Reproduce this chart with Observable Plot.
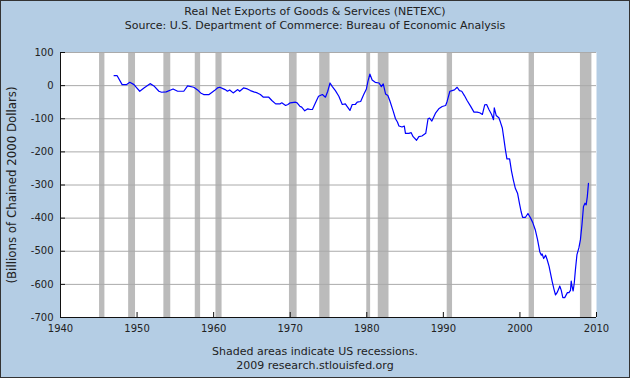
<!DOCTYPE html>
<html><head><meta charset="utf-8">
<script src="https://cdn.jsdelivr.net/npm/d3@7"></script>
<script src="https://cdn.jsdelivr.net/npm/@observablehq/plot@0.6"></script>
<style>
html,body{margin:0;padding:0;background:#b4cde4;}
#wrap{position:relative;width:630px;height:378px;background:#b4cde4;font-family:"DejaVu Sans",sans-serif;color:#222;overflow:hidden}
#title{height:36px;box-sizing:border-box;padding-top:5px;text-align:center;font-size:11px;line-height:14px;white-space:nowrap}
#caption{height:36px;box-sizing:border-box;padding-top:3px;text-align:center;font-size:11px;line-height:14px;white-space:nowrap}
#border{position:absolute;left:0;top:0;width:630px;height:378px;box-sizing:border-box;border:1px solid #333;pointer-events:none}
svg{display:block}
</style></head>
<body>
<div id="wrap">
  <div id="title"><div>Real Net Exports of Goods &amp; Services (NETEXC)</div><div>Source: U.S. Department of Commerce: Bureau of Economic Analysis</div></div>
  <div id="chart"></div>
  <div id="caption"><div>Shaded areas indicate US recessions.</div><div>2009 research.stlouisfed.org</div></div>
  <div id="border"></div>
</div>
<script>
const years = [1947.0,1947.4,1948.05,1948.6,1949.05,1949.6,1949.9,1950.35,1950.9,1951.7,1952.2,1952.85,1953.2,1953.8,1954.4,1954.7,1955.3,1956.1,1956.6,1957.4,1957.9,1958.3,1958.7,1959.4,1959.8,1960.1,1960.5,1960.8,1961.2,1961.5,1961.8,1962.1,1962.55,1962.85,1963.15,1963.4,1963.9,1964.4,1964.8,1965.25,1965.7,1966.1,1966.5,1967.2,1967.6,1968.1,1968.7,1968.9,1969.4,1969.7,1970.0,1970.7,1970.9,1971.25,1971.5,1971.9,1972.3,1972.65,1972.9,1973.3,1973.7,1974.2,1974.6,1974.9,1975.2,1975.5,1975.9,1976.35,1976.8,1977.2,1977.4,1977.8,1978.1,1978.5,1978.75,1979.2,1979.6,1979.95,1980.15,1980.4,1980.7,1981.1,1981.6,1981.9,1982.15,1982.45,1982.75,1983.0,1983.45,1983.75,1984.0,1984.2,1984.6,1984.9,1985.05,1985.5,1985.8,1986.05,1986.5,1986.8,1987.2,1987.7,1988.0,1988.2,1988.5,1989.0,1989.4,1989.85,1990.3,1990.5,1990.85,1991.15,1991.45,1991.8,1992.1,1992.4,1992.75,1993.1,1993.55,1994.0,1994.4,1994.75,1995.1,1995.4,1995.65,1995.95,1996.3,1996.55,1996.65,1996.9,1997.25,1997.45,1997.7,1997.9,1998.1,1998.3,1998.65,1998.9,1999.15,1999.4,1999.7,1999.95,2000.15,2000.35,2000.7,2001.05,2001.4,2001.7,2002.0,2002.3,2002.6,2002.8,2002.9,2003.1,2003.35,2003.55,2003.8,2004.2,2004.45,2004.65,2004.85,2005.1,2005.2,2005.4,2005.6,2005.85,2006.2,2006.4,2006.6,2006.7,2006.8,2006.95,2007.1,2007.25,2007.45,2007.7,2007.9,2008.1,2008.3,2008.5,2008.65,2008.8,2008.95];
const netExports = [30,30,3,3,10,3,-5,-17,-7,6,-1,-17,-20,-19,-13,-10,-17,-17,-1,-5,-13,-22,-27,-27,-20,-15,-7,-5,-9,-12,-17,-13,-22,-17,-12,-17,-7,-10,-15,-19,-22,-27,-35,-35,-45,-55,-55,-52,-60,-57,-52,-50,-52,-62,-65,-76,-70,-72,-72,-52,-32,-27,-35,-17,8,-3,-15,-32,-57,-55,-62,-75,-57,-57,-50,-48,-27,-10,13,35,17,10,8,-3,5,-25,-30,-45,-77,-100,-110,-122,-125,-122,-144,-144,-142,-154,-165,-154,-152,-144,-100,-98,-107,-82,-70,-63,-60,-47,-17,-15,-13,-5,-15,-17,-30,-45,-62,-80,-80,-82,-87,-58,-57,-72,-87,-103,-67,-90,-97,-110,-128,-160,-193,-221,-221,-258,-286,-310,-326,-357,-380,-398,-398,-386,-400,-415,-435,-465,-502,-512,-508,-522,-512,-525,-545,-590,-615,-632,-625,-612,-605,-618,-640,-640,-625,-625,-618,-590,-605,-620,-595,-555,-510,-490,-465,-420,-365,-355,-360,-335,-295];
const recessionStart = [1945.1,1948.9,1953.5,1957.6,1960.3,1969.9,1973.85,1980.0,1981.5,1990.5,2001.2,2007.9];
const recessionEnd   = [1945.8,1949.8,1954.4,1958.3,1961.1,1970.9,1975.2,1980.5,1982.9,1991.2,2001.9,2009.4];
const yTicks = [100,0,-100,-200,-300,-400,-500,-600,-700];
const xTicks = [1940,1950,1960,1970,1980,1990,2000,2010];
const yLabel = "(Billions of Chained 2000 Dollars)";

const series = years.map((y,i)=>({year:y, value:netExports[i]}));
const recessions = recessionStart.map((s,i)=>({start:s, end:recessionEnd[i]}));

const W = 630, H = 306, mL = 60, mR = 34, mT = 16, mB = 25;
const pw = W - mL - mR, ph = H - mT - mB;

const chart = Plot.plot({
  width: W, height: H,
  marginLeft: mL, marginRight: mR, marginTop: mT, marginBottom: mB,
  style: {background: "transparent", fontFamily: "DejaVu Sans, sans-serif", fontSize: "10px", color: "#222", overflow: "visible"},
  x: {domain: [1940, 2010], axis: null},
  y: {domain: [-700, 100], axis: null},
  marks: [
    Plot.frame({fill: "white", stroke: null}),
    Plot.rect(recessions, {x1: "start", x2: "end", fill: "#bbbbbb"}),
    Plot.gridY(yTicks, {stroke: "#aaaaaa", strokeOpacity: 1, strokeWidth: 1}),
    Plot.line(series, {x: "year", y: "value", stroke: "#0000ff", strokeWidth: 1.2}),
    Plot.tickY(yTicks, {y: d => d, stroke: "#111", insetRight: pw - 5}),
    Plot.tickX(xTicks, {x: d => d, stroke: "#111", insetTop: ph - 5}),
    Plot.ruleX([1940], {stroke: "#111"}),
    Plot.ruleY([-700], {stroke: "#111"}),
    Plot.axisY(yTicks, {tickSize: 0, tickPadding: 7, tickFormat: d => String(d), fill: "#222", fontSize: 10, label: null}),
    Plot.axisX(xTicks, {tickSize: 0, tickPadding: 7, tickFormat: d => String(d), fill: "#222", fontSize: 10, label: null}),
    Plot.text([yLabel], {text: d => d, frameAnchor: "left", textAnchor: "middle", rotate: -90, dx: -48, fontSize: 11.8, fill: "#222"})
  ]
});
document.getElementById("chart").appendChild(chart);
</script>
</body></html>
